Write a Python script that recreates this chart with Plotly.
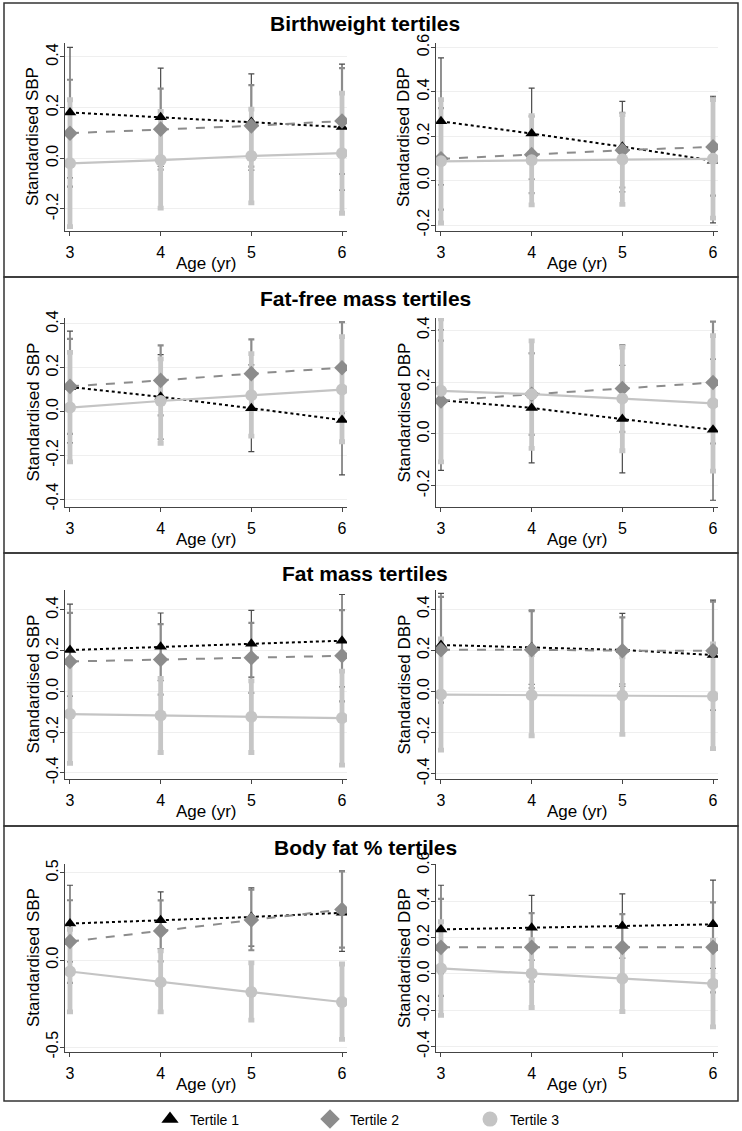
import plotly.graph_objects as go

# ---------------- data ----------------
ages = [3, 4, 5, 6]
tertile_names = ["Tertile 1", "Tertile 2", "Tertile 3"]
row_titles = ["Birthweight tertiles", "Fat-free mass tertiles", "Fat mass tertiles", "Body fat % tertiles"]
y_titles = ["Standardised SBP", "Standardised DBP"]
x_title = "Age (yr)"

# Birthweight - SBP
bw_sbp_mean = [[0.181, 0.162, 0.143, 0.123], [0.099, 0.115, 0.128, 0.147], [-0.020, -0.007, 0.009, 0.020]]
bw_sbp_lo = [[-0.077, -0.032, -0.047, -0.126], [-0.112, -0.045, -0.033, -0.062], [-0.270, -0.197, -0.176, -0.217]]
bw_sbp_hi = [[0.438, 0.356, 0.333, 0.372], [0.310, 0.275, 0.289, 0.356], [0.231, 0.185, 0.194, 0.257]]
# Birthweight - DBP
bw_dbp_mean = [[0.267, 0.212, 0.153, 0.090], [0.098, 0.117, 0.137, 0.152], [0.087, 0.092, 0.095, 0.098]]
bw_dbp_lo = [[-0.019, 0.007, -0.051, -0.190], [-0.131, -0.056, -0.031, -0.068], [-0.191, -0.109, -0.107, -0.169]]
bw_dbp_hi = [[0.553, 0.417, 0.357, 0.380], [0.327, 0.290, 0.305, 0.372], [0.365, 0.293, 0.297, 0.365]]
# Fat-free mass - SBP
ffm_sbp_mean = [[0.112, 0.067, 0.015, -0.039], [0.115, 0.142, 0.173, 0.200], [0.018, 0.048, 0.074, 0.100]]
ffm_sbp_lo = [[-0.143, -0.126, -0.183, -0.289], [-0.102, -0.018, 0.017, -0.008], [-0.230, -0.145, -0.112, -0.138]]
ffm_sbp_hi = [[0.367, 0.260, 0.213, 0.211], [0.332, 0.302, 0.329, 0.408], [0.270, 0.240, 0.264, 0.342]]
# Fat-free mass - DBP
ffm_dbp_mean = [[0.130, 0.100, 0.057, 0.016], [0.127, 0.153, 0.175, 0.198], [0.166, 0.153, 0.136, 0.118]]
ffm_dbp_lo = [[-0.141, -0.112, -0.150, -0.256], [-0.106, -0.004, 0.008, -0.037], [-0.108, -0.056, -0.065, -0.144]]
ffm_dbp_hi = [[0.401, 0.312, 0.264, 0.288], [0.360, 0.310, 0.342, 0.433], [0.444, 0.359, 0.335, 0.379]]
# Fat mass - SBP
fm_sbp_mean = [[0.203, 0.219, 0.234, 0.249], [0.147, 0.157, 0.165, 0.175], [-0.111, -0.118, -0.124, -0.131]]
fm_sbp_lo = [[-0.023, 0.053, 0.070, 0.022], [-0.092, -0.016, -0.007, -0.049], [-0.353, -0.300, -0.300, -0.362]]
fm_sbp_hi = [[0.429, 0.385, 0.398, 0.476], [0.386, 0.330, 0.337, 0.399], [0.131, 0.064, 0.052, 0.100]]
# Fat mass - DBP
fm_dbp_mean = [[0.226, 0.215, 0.202, 0.177], [0.203, 0.203, 0.198, 0.198], [-0.015, -0.018, -0.020, -0.023]]
fm_dbp_lo = [[-0.025, 0.035, 0.025, -0.090], [-0.054, 0.016, 0.036, -0.040], [-0.285, -0.215, -0.208, -0.277]]
fm_dbp_hi = [[0.477, 0.395, 0.379, 0.444], [0.460, 0.390, 0.360, 0.436], [0.255, 0.179, 0.168, 0.231]]
# Body fat % - SBP
bf_sbp_mean = [[0.209, 0.228, 0.247, 0.271], [0.106, 0.167, 0.230, 0.290], [-0.066, -0.127, -0.184, -0.241]]
bf_sbp_lo = [[-0.011, 0.065, 0.080, 0.050], [-0.131, -0.008, 0.056, 0.071], [-0.298, -0.298, -0.345, -0.455]]
bf_sbp_hi = [[0.429, 0.391, 0.414, 0.512], [0.343, 0.342, 0.404, 0.509], [0.176, 0.053, -0.017, -0.023]]
# Body fat % - DBP
bf_dbp_mean = [[0.245, 0.254, 0.264, 0.273], [0.146, 0.146, 0.146, 0.146], [0.030, 0.002, -0.026, -0.054]]
bf_dbp_lo = [[0.002, 0.076, 0.087, 0.030], [-0.121, -0.043, -0.037, -0.102], [-0.228, -0.185, -0.207, -0.292]]
bf_dbp_hi = [[0.488, 0.432, 0.441, 0.516], [0.413, 0.335, 0.329, 0.394], [0.288, 0.189, 0.155, 0.184]]

# y tick values / labels per panel
yticks = [
    [-0.2, 0.0, 0.2, 0.4], [-0.2, 0.0, 0.2, 0.4, 0.6],
    [-0.4, -0.2, 0.0, 0.2, 0.4], [-0.2, 0.0, 0.2, 0.4],
    [-0.4, -0.2, 0.0, 0.2, 0.4], [-0.4, -0.2, 0.0, 0.2, 0.4],
    [-0.5, 0.0, 0.5], [-0.4, -0.2, 0.0, 0.2, 0.4, 0.6],
]
ytick_text = [
    ["-0.2", "0.0", "0.2", "0.4"], ["-0.2", "0.0", "0.2", "0.4", "0.6"],
    ["-0.4", "-0.2", "0.0", "0.2", "0.4"], ["-0.2", "0.0", "0.2", "0.4"],
    ["-0.4", "-0.2", "0.0", "0.2", "0.4"], ["-0.4", "-0.2", "0.0", "0.2", "0.4"],
    ["-0.5", "0.0", "0.5"], ["-0.4", "-0.2", "0.0", "0.2", "0.4", "0.6"],
]
yranges = [
    [-0.287, 0.455], [-0.227, 0.62],
    [-0.436, 0.427], [-0.282, 0.447],
    [-0.43, 0.498], [-0.425, 0.493],
    [-0.528, 0.551], [-0.43, 0.605],
]

panels = [
    (bw_sbp_mean, bw_sbp_lo, bw_sbp_hi), (bw_dbp_mean, bw_dbp_lo, bw_dbp_hi),
    (ffm_sbp_mean, ffm_sbp_lo, ffm_sbp_hi), (ffm_dbp_mean, ffm_dbp_lo, ffm_dbp_hi),
    (fm_sbp_mean, fm_sbp_lo, fm_sbp_hi), (fm_dbp_mean, fm_dbp_lo, fm_dbp_hi),
    (bf_sbp_mean, bf_sbp_lo, bf_sbp_hi), (bf_dbp_mean, bf_dbp_lo, bf_dbp_hi),
]

# ---------------- styles ----------------
W, H = 742, 1131
FONT = "Liberation Sans, Arial, Helvetica, sans-serif"
marker_sym = ["triangle-up", "diamond", "circle"]
marker_col = ["#000000", "#8c8c8c", "#c4c4c4"]
marker_size = [11, 12, 12]
line_dash = ["dot", "dash", "solid"]
line_col = ["#000000", "#8c8c8c", "#c4c4c4"]
line_w = [2, 2, 2.2]
err_col = ["#4a4a4a", "#8c8c8c", "#c6c6c6"]
err_w = [1.2, 2.2, 4.8]

col_px = [(65, 347), (436, 718)]
ytitle_x_px = [33, 404]
row_px = [(43, 231), (318, 507), (590, 779), (864, 1052)]
title_y_px = [23, 298, 573, 847]
sep_px = [3, 277, 553, 826, 1101]


def px_x(x):
    return x / W


def px_y(y):
    return 1 - y / H


fig = go.Figure()

layout = dict(
    template="none",
    width=W, height=H, autosize=False,
    margin=dict(l=0, r=0, t=0, b=0, pad=0, autoexpand=False),
    paper_bgcolor="white", plot_bgcolor="white",
    font=dict(family=FONT, color="black", size=15),
    showlegend=True,
)

annotations = []

for k in range(8):
    r, c = divmod(k, 2)
    ax = "" if k == 0 else str(k + 1)
    xa, ya = "x" + ax, "y" + ax
    mean, lo, hi = panels[k]
    # error bars first
    for t in range(3):
        fig.add_trace(go.Scatter(
            x=ages, y=mean[t], xaxis=xa, yaxis=ya, mode="markers",
            marker=dict(size=1, opacity=0),
            error_y=dict(type="data", symmetric=False,
                         array=[h - m for h, m in zip(hi[t], mean[t])],
                         arrayminus=[m - l for m, l in zip(mean[t], lo[t])],
                         color=err_col[t], thickness=err_w[t], width=3),
            showlegend=False, hoverinfo="skip"))
    for t in range(3):
        fig.add_trace(go.Scatter(
            x=ages, y=mean[t], xaxis=xa, yaxis=ya, mode="lines+markers",
            line=dict(color=line_col[t], dash=line_dash[t], width=line_w[t]),
            marker=dict(symbol=marker_sym[t], color=marker_col[t], size=marker_size[t],
                        line=dict(width=0)),
            showlegend=False, name=tertile_names[t]))

    x0, x1 = col_px[c]
    y0, y1 = row_px[r]
    layout["xaxis" + ax] = dict(
        domain=[px_x(x0), px_x(x1)], anchor=ya, range=[2.945, 6.055], automargin=False,
        tickvals=ages, ticktext=[str(a) for a in ages],
        ticks="outside", ticklen=4, tickcolor="#444", tickwidth=1, ticklabelstandoff=3,
        showline=True, linecolor="#444", linewidth=1, showgrid=False, zeroline=False,
        tickfont=dict(size=16),
    )
    layout["yaxis" + ax] = dict(
        domain=[px_y(y1), px_y(y0)], anchor=xa, range=yranges[k], automargin=False,
        tickvals=yticks[k], ticktext=ytick_text[k], tickangle=-90,
        ticks="outside", ticklen=4, tickcolor="#444", tickwidth=1, ticklabelstandoff=-4,
        showline=True, linecolor="#444", linewidth=1,
        showgrid=True, gridcolor="#efefef", gridwidth=1, zeroline=False,
        tickfont=dict(size=16),
    )
    # axis titles
    annotations.append(dict(text=x_title, xref="paper", yref="paper",
                            x=px_x((x0 + x1) / 2), y=px_y(y1 + 32), xanchor="center", yanchor="middle",
                            showarrow=False, font=dict(size=17, family=FONT, color="black")))
    annotations.append(dict(text=y_titles[c], xref="paper", yref="paper", textangle=-90,
                            x=px_x(ytitle_x_px[c]), y=px_y((y0 + y1) / 2), xanchor="center", yanchor="middle",
                            showarrow=False, font=dict(size=17, family=FONT, color="black")))

# legend-only traces
for t in range(3):
    fig.add_trace(go.Scatter(
        x=[None], y=[None], mode="markers", name=tertile_names[t],
        marker=dict(symbol=marker_sym[t], color=marker_col[t], size=15, line=dict(width=0)),
        showlegend=True))

layout["legend"] = dict(
    orientation="h", x=px_x(150), xanchor="left", y=-0.004, yanchor="bottom",
    font=dict(size=14), entrywidth=115, entrywidthmode="pixels",
    bgcolor="rgba(0,0,0,0)", itemclick=False, itemdoubleclick=False,
)

shapes = []
for i in range(4):
    shapes.append(dict(type="rect", xref="paper", yref="paper",
                       x0=px_x(4), x1=px_x(738), y0=px_y(sep_px[i + 1]), y1=px_y(sep_px[i]),
                       line=dict(color="#333333", width=1.5), fillcolor="rgba(0,0,0,0)", layer="above"))
layout["shapes"] = shapes

for i in range(4):
    annotations.append(dict(text="<b>" + row_titles[i] + "</b>", xref="paper", yref="paper",
                            x=px_x(365), y=px_y(title_y_px[i]), xanchor="center", yanchor="middle",
                            showarrow=False, font=dict(size=21, family=FONT, color="black")))
layout["annotations"] = annotations

fig.update_layout(**layout)
fig.write_html(
    "out.html",
    config={"displayModeBar": False, "responsive": False},
    post_script="document.body.style.margin='0';document.body.style.padding='0';"
                "document.body.style.overflow='hidden';",
)
